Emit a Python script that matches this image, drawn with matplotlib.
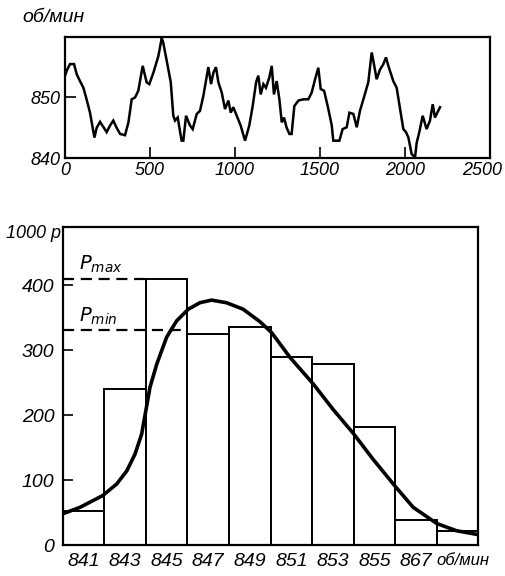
import matplotlib
matplotlib.use("Agg")
import matplotlib.pyplot as plt
from matplotlib.font_manager import fontManager
from matplotlib.transforms import ScaledTranslation

# ---------------- data ----------------
# top: rotation speed vs time
ts_t = [0, 10, 29, 53, 69, 88, 108, 124, 147, 173, 186, 206, 229, 245, 265, 284, 304, 324, 353,
        373, 392, 412, 431, 457, 480, 496, 520, 549, 569, 578, 608, 622, 637, 647, 663, 676, 686,
        696, 712, 735, 751, 775, 794, 814, 843, 859, 873, 888, 902, 922, 941, 961, 975, 990, 1010,
        1033, 1059, 1084, 1104, 1124, 1137, 1151, 1167, 1182, 1202, 1216, 1229, 1245, 1261, 1275,
        1288, 1304, 1320, 1333, 1349, 1373, 1402, 1431, 1451, 1471, 1490, 1504, 1524, 1549, 1569,
        1578, 1614, 1633, 1657, 1673, 1696, 1716, 1735, 1755, 1784, 1804, 1814, 1833, 1853, 1873,
        1888, 1902, 1931, 1951, 1971, 1990, 2006, 2020, 2039, 2059, 2069, 2084, 2104, 2127, 2147,
        2163, 2176, 2190, 2206]
ts_rpm = [853.6, 854.4, 855.5, 855.5, 853.8, 852.7, 851.6, 850.0, 847.5, 843.4, 845.0, 846.0,
          845.0, 844.3, 845.4, 846.2, 845.0, 844.0, 843.8, 845.9, 849.7, 850.0, 851.1, 855.2,
          852.5, 852.2, 854.1, 856.8, 859.8, 859.0, 854.6, 852.5, 847.0, 846.2, 846.7, 844.5,
          842.9, 842.9, 847.0, 845.4, 844.8, 847.3, 847.8, 850.3, 855.0, 852.2, 854.1, 855.0,
          852.5, 850.8, 848.1, 849.5, 847.5, 848.4, 847.0, 845.4, 842.9, 845.4, 848.6, 852.5,
          853.6, 850.5, 852.2, 851.6, 853.3, 855.2, 850.5, 852.7, 849.7, 845.9, 846.7, 845.0,
          844.0, 844.0, 848.6, 849.5, 849.7, 849.7, 850.8, 853.0, 854.9, 851.4, 851.1, 848.1,
          845.4, 842.9, 842.9, 844.8, 845.1, 847.5, 847.3, 845.1, 847.8, 849.7, 852.5, 857.4,
          856.0, 853.0, 854.6, 855.5, 856.6, 855.2, 852.7, 851.6, 848.1, 844.8, 844.3, 843.4,
          840.7, 840.2, 842.6, 844.3, 847.0, 844.8, 846.2, 848.9, 846.7, 847.5, 848.4]
top_xticks = [0, 500, 1000, 1500, 2000, 2500]
top_yticks = [840, 850]

# bottom: histogram of rotation speed
bin_centers = [841, 843, 845, 847, 849, 851, 853, 855, 857, 859]
bin_labels = ["841", "843", "845", "847", "849", "851", "853", "855", "867", "об/мин"]
bin_heights = [53, 240, 409, 325, 336, 290, 278, 181, 39, 22]
p_max = 410
p_min = 331
p_max_end = 844
p_min_end = 845.7
curve_x = [840.0, 840.83, 841.92, 842.6, 843.08, 843.48, 843.8, 843.9, 844.0, 844.2, 844.52,
           845.0, 845.48, 846.04, 846.6, 847.16, 847.88, 848.68, 849.48, 850.05, 850.93, 852.05,
           853.0, 854.0, 854.93, 856.03, 856.86, 858.0, 858.94, 859.98]
curve_y = [48, 58, 76, 94, 114, 140, 171, 189, 207, 243, 278, 320, 345, 363, 373, 377, 373,
           363, 344, 327, 289, 248, 209, 171, 132, 89, 58, 33, 22, 16]
bottom_yticks = [0, 100, 200, 300, 400]

# ---------------- drawing ----------------
installed = {f.name for f in fontManager.ttflist}
fams = [f for f in ["Liberation Sans Narrow", "Liberation Sans", "DejaVu Sans"] if f in installed]
plt.rcParams["font.family"] = fams
plt.rcParams["font.style"] = "italic"
plt.rcParams["mathtext.fontset"] = "dejavusans"

fig = plt.figure(figsize=(5.06, 5.76), dpi=100)
fig.patch.set_facecolor("white")

# top axes
ax1 = fig.add_axes([0.1285, 0.7252, 0.8399, 0.2111])
ax1.plot(ts_t, ts_rpm, color="black", lw=1.8, solid_joinstyle="miter")
ax1.set_xlim(0, 2500)
ax1.set_ylim(840, 860)
ax1.set_xticks(top_xticks)
ax1.set_yticks(top_yticks)
ax1.set_xticklabels([str(v) for v in top_xticks], fontsize=13, style="italic")
ax1.set_yticklabels([str(v) for v in top_yticks], fontsize=13, style="italic")
ax1.tick_params(direction="in", length=8, width=1.2, pad=3)
last = ax1.get_xticklabels()[-1]
last.set_transform(last.get_transform() + ScaledTranslation(-8 / 100, 0, fig.dpi_scale_trans))
for s in ax1.spines.values():
    s.set_linewidth(1.6)
fig.text(22 / 506, 1 - 18 / 576, "об/мин", fontsize=14, style="italic",
         ha="left", va="center")

# bottom axes
ax2 = fig.add_axes([0.1239, 0.0538, 0.8217, 0.5526])
ax2.bar(bin_centers, bin_heights, width=2, facecolor="white", edgecolor="black",
        linewidth=1.4, zorder=2)
ax2.plot(curve_x, curve_y, color="black", lw=2.6, zorder=3, solid_capstyle="round",
         solid_joinstyle="round")
ax2.plot([840, p_max_end], [p_max, p_max], color="black", lw=1.6, ls=(0, (5, 3)), zorder=3)
ax2.plot([840, p_min_end], [p_min, p_min], color="black", lw=1.6, ls=(0, (5, 3)), zorder=3)
ax2.text(840.8, p_max + 6, "$P_{max}$", fontsize=14, ha="left", va="bottom")
ax2.text(840.8, p_min + 4, "$P_{min}$", fontsize=14, ha="left", va="bottom")
ax2.set_xlim(840, 860)
ax2.set_ylim(0, 490)
ax2.set_xticks(bin_centers)
ax2.set_xticklabels(bin_labels, fontsize=14, style="italic")
ax2.set_yticks(bottom_yticks)
ax2.set_yticklabels([str(v) for v in bottom_yticks], fontsize=14, style="italic")
ax2.tick_params(axis="x", length=0, pad=6)
ax2.tick_params(axis="y", direction="in", length=7, width=1.2, pad=6)
unit_lbl = ax2.get_xticklabels()[-1]
unit_lbl.set_fontsize(12)
unit_lbl.set_transform(unit_lbl.get_transform() +
                       ScaledTranslation(5 / 100, 0, fig.dpi_scale_trans))
for s in ax2.spines.values():
    s.set_linewidth(1.6)
fig.text(6 / 506, 1 - 233 / 576, "1000 p", fontsize=13, style="italic",
         ha="left", va="center")

fig.savefig("out.png", dpi=100, facecolor="white")
